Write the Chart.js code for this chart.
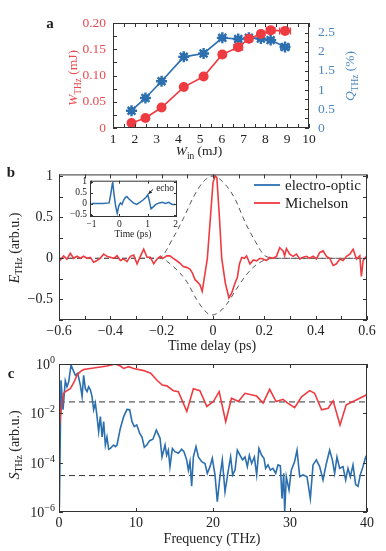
<!DOCTYPE html>
<html>
<head>
<meta charset="utf-8">
<script src="https://cdn.jsdelivr.net/npm/chart.js@4.4.0/dist/chart.umd.min.js"></script>
<style>
  body { margin: 0; background: #fff; width: 386px; height: 551px; position: relative; overflow: hidden; }
  canvas { position: absolute; left: 0; }
</style>
</head>
<body>
<canvas id="chartA" width="386" height="160" style="top:0"></canvas>
<canvas id="chartB" width="386" height="195" style="top:160px"></canvas>
<canvas id="inset" width="125" height="68" style="left:60px;top:172px"></canvas>
<canvas id="chartC" width="386" height="196" style="top:355px"></canvas>
<script>
// ---- panel a : THz energy / conversion efficiency vs input energy ----
const winMJ = [1.85, 2.49, 3.23, 4.25, 5.16, 6.02, 6.75, 7.24, 7.79, 8.24, 8.9];
const wThz  = [0.0095, 0.019, 0.039, 0.078, 0.098, 0.14, 0.154, 0.17, 0.179, 0.186, 0.185];
const qThz  = [0.455, 0.79, 1.23, 1.87, 1.96, 2.37, 2.34, 2.37, 2.35, 2.31, 2.13];
const wErr  = [0.05, 0.05, 0.05, 0.05, 0.08, 0.15, 0.2, 0.15, 0.15, 0.2, 0.25];
const qErr  = [0.05, 0.05, 0.05, 0.05, 0.08, 0.15, 0.15, 0.15, 0.15, 0.15, 0.2];
const qYErr = [0.05, 0.05, 0.05, 0.05, 0.05, 0.05, 0.05, 0.05, 0.05, 0.05, 0.05];
const winTicks = [1, 2, 3, 4, 5, 6, 7, 8, 9, 10];
const wTicks = [0, 0.05, 0.1, 0.15, 0.2];
const wTickLabels = ['0', '0.05', '0.10', '0.15', '0.20'];
const qTicks = [0, 0.5, 1, 1.5, 2, 2.5];
const qTickLabels = ['0', '0.5', '1', '1.5', '2', '2.5'];

// ---- panel b : Michelson field trace, envelope, inset EO trace ----
const delayPs = [
  -0.600,-0.595,-0.582,-0.569,-0.556,-0.543,-0.530,-0.517,-0.504,-0.491,
  -0.478,-0.465,-0.452,-0.439,-0.426,-0.413,-0.400,-0.387,-0.374,-0.361,
  -0.348,-0.335,-0.322,-0.309,-0.296,-0.283,-0.270,-0.257,-0.244,-0.231,
  -0.218,-0.205,-0.195,-0.180,-0.168,-0.155,-0.141,-0.128,-0.116,-0.103,
  -0.090,-0.080,-0.070,-0.060,-0.051,-0.042,-0.032,-0.022,-0.010,0.000,
  0.008,0.015,0.025,0.034,0.048,0.062,0.073,0.086,0.095,0.103,
  0.112,0.122,0.131,0.144,0.157,0.170,0.183,0.195,0.208,0.221,
  0.234,0.247,0.260,0.266,0.273,0.279,0.286,0.299,0.312,0.325,
  0.338,0.351,0.364,0.377,0.390,0.403,0.416,0.429,0.442,0.455,
  0.468,0.481,0.494,0.507,0.520,0.533,0.546,0.559,0.572,0.578,
  0.585,0.598
];
const michelson = [
  0.012,-0.020,0.030,-0.010,0.060,0.000,0.025,0.000,0.025,0.000,
  0.012,-0.047,-0.027,0.000,0.051,0.024,0.012,0.000,0.031,-0.027,
  -0.008,-0.039,0.024,0.039,-0.067,0.024,0.110,0.012,0.012,-0.067,
  -0.008,0.024,0.000,0.030,0.030,0.000,-0.030,-0.060,-0.100,-0.110,
  -0.130,-0.180,-0.260,-0.290,-0.320,-0.400,-0.200,0.000,0.500,0.920,
  1.000,0.980,0.500,0.000,-0.300,-0.480,-0.420,-0.300,-0.230,-0.070,
  0.010,0.000,0.030,-0.070,-0.020,-0.030,0.000,-0.008,-0.027,0.012,
  0.000,0.024,0.129,0.110,0.090,0.031,0.118,0.051,0.024,0.051,
  -0.008,0.012,0.024,0.000,0.024,-0.008,0.071,0.090,0.024,0.000,
  -0.086,-0.067,-0.008,-0.027,0.024,0.051,0.110,-0.008,0.031,-0.220,
  -0.027,0.024
];
const envUpT = [-0.6, -0.25, -0.207, -0.155, -0.116, -0.077, -0.038, 0, 0.047, 0.086, 0.125, 0.164, 0.203, 0.25, 0.6];
const envUp  = [0, 0, 0.01, 0.25, 0.48, 0.74, 0.93, 1.0, 0.9, 0.72, 0.44, 0.21, 0.03, 0, 0];
const envLoT = [-0.6, -0.25, -0.207, -0.155, -0.103, -0.064, -0.031, -0.005, 0.021, 0.053, 0.086, 0.125, 0.164, 0.203, 0.25, 0.6];
const envLo  = [0, 0, 0, -0.1, -0.28, -0.5, -0.64, -0.69, -0.66, -0.56, -0.4, -0.22, -0.09, -0.02, 0, 0];
const delayTicks = [-0.6, -0.4, -0.2, 0, 0.2, 0.4, 0.6];
const delayTickLabels = ['\u22120.6', '\u22120.4', '\u22120.2', '0', '0.2', '0.4', '0.6'];
const fieldTicks = [-0.5, 0, 0.5, 1];
const fieldTickLabels = ['\u22120.5', '0', '0.5', '1'];

const eoTime = [
  -1.0,-0.6,-0.368,-0.31,-0.253,-0.241,-0.195,-0.138,-0.08,-0.023,
  0.034,0.092,0.149,0.207,0.264,0.322,0.379,0.494,0.609,0.724,
  0.839,0.954,1.011,1.069,1.126,1.184,1.299,1.414,1.529,1.644,
  1.759,1.874,1.989
];
const eoField = [
  0.013,0.013,0.04,0.44,0.907,1.0,0.44,-0.093,-0.427,-0.093,
  0.04,-0.027,0.173,0.28,0.333,0.24,0.173,0.04,-0.027,0.067,
  0.173,0.307,0.413,0.107,-0.227,-0.16,-0.027,0.04,0.067,0.013,
  0.067,-0.027,-0.027
];
const insetTimeTicks = [-1, 0, 1, 2];
const insetTimeLabels = ['\u22121', '0', '1', '2'];
const insetFieldTicks = [-0.5, 0, 0.5, 1];
const insetFieldLabels = ['\u22120.5', '0', '0.5', '1'];

// ---- panel c : spectra ----
const freqMich = [
  0, 0.17, 0.39, 0.61, 0.82, 1.47, 1.9, 2.34, 2.77, 3.2,
  4.07, 4.94, 6.23, 7.3, 7.97, 8.4, 9.05, 9.7, 11.0, 11.9,
  12.73, 13.4, 14.0, 14.85, 15.5, 16.6, 17.45, 18.3, 19.2, 20.05,
  20.8, 21.65, 22.4, 23.3, 24.15, 25.67, 26.5, 27.36, 28.2, 29.1,
  29.7, 30.6, 31.5, 32.55, 33.2, 34.1, 34.95, 35.6, 36.5, 37.3,
  38.2, 39.9, 40
];
const specMich = [
  2.1e-3, 7.4e-3, 2.6e-2, 6.5e-2, 7.6e-2, 0.10, 0.17, 0.35, 0.49, 0.60,
  0.66, 0.72, 0.83, 1.0, 0.83, 0.66, 0.78, 0.66, 0.54, 0.42,
  0.22, 0.14, 0.13, 0.083, 0.076, 0.012, 0.10, 0.083, 0.019, 0.030,
  0.076, 0.0046, 0.041, 0.030, 0.065, 0.05, 0.026, 0.094, 0.030, 0.037,
  0.026, 0.017, 0.047, 0.083, 0.065, 0.014, 0.016, 0.032, 0.0034, 0.022,
  0.030, 0.055, 0.057
];
const freqEO = [
  0.05, 0.26, 0.52, 0.82, 1.04, 1.26, 1.56, 1.82, 2.12, 2.43,
  2.77, 3.0, 3.2, 3.42, 3.64, 3.85, 4.07, 4.29, 4.5, 4.72,
  4.94, 5.15, 5.37, 5.6, 5.8, 6.02, 6.23, 6.45, 6.67, 7.1,
  7.32, 7.53, 7.97, 8.4, 8.83, 9.18, 9.48, 9.78, 10.1, 10.5,
  10.78, 11.08, 11.4, 11.77, 12.2, 12.64, 12.94, 13.12, 13.38, 13.77,
  13.98, 14.2, 14.41, 14.72, 15.06, 15.5, 15.93, 16.23, 16.58, 16.8,
  17.01, 17.23, 17.45, 17.79, 18.1, 18.53, 18.96, 19.26, 19.61, 19.91,
  20.26, 20.56, 20.9, 21.21, 21.56, 21.99, 22.29, 22.55, 22.86, 23.16,
  23.51, 23.85, 24.16, 24.46, 24.72, 25.02, 25.37, 25.67, 25.97, 26.32,
  26.62, 26.84, 27.14, 27.45, 27.79, 28.14, 28.44, 28.75, 28.96, 29.18,
  29.31, 29.52, 29.87, 30.17, 30.6, 30.91, 31.26, 31.69, 32.21, 32.64,
  32.99, 33.42, 33.85, 34.29, 34.72, 35.15, 35.5, 35.8, 36.1, 36.45,
  36.88, 37.23, 37.53, 37.84, 38.18, 38.53, 38.83, 39.13, 39.48, 39.83,
  40
];
const specEO = [
  1.5e-6, 0.22, 0.014, 0.21, 0.12, 0.19, 0.91, 0.58, 0.35, 0.42,
  0.14, 0.048, 0.35, 0.10, 0.076, 0.12, 0.089, 0.048, 0.014, 0.026,
  7.4e-3, 1.8e-3, 7.4e-3, 1.1e-3, 4.6e-3, 5.2e-4, 1.1e-3, 3.5e-4, 3.8e-4, 5.2e-4,
  4.5e-4, 5.2e-4, 2.5e-3, 7.4e-3, 1.45e-2, 1.4e-2, 4.6e-3, 2.9e-3, 3.4e-3, 1.5e-3,
  1.1e-3, 4.2e-4, 5.2e-4, 7.8e-4, 8.9e-4, 2.1e-3, 1.3e-3, 9.8e-4, 1.7e-4, 5.2e-4,
  2.0e-4, 3.2e-4, 6.9e-5, 3.8e-4, 2.8e-4, 2.4e-4, 3.5e-4, 2.8e-4, 1.3e-4, 5e-5,
  1.1e-4, 1.1e-5, 1.7e-4, 4.5e-4, 1.7e-4, 1.1e-4, 9.3e-5, 3.7e-5, 6.9e-5, 1.5e-4,
  3.2e-5, 2.6e-6, 2.7e-5, 1.3e-4, 6.6e-6, 5e-5, 1.7e-4, 3.2e-5, 5e-5, 3.2e-4,
  2.0e-4, 1.3e-4, 1.7e-4, 6.9e-5, 2.0e-4, 9.3e-5, 1.7e-4, 3.2e-5, 3.8e-4, 2.0e-4,
  1.5e-4, 5.9e-5, 8.1e-5, 5e-5, 5.9e-5, 3.7e-5, 8.1e-5, 7.4e-5, 3.5e-6, 3.7e-5,
  1e-6, 2.7e-5, 7.8e-6, 5e-5, 1.1e-4, 3.2e-4, 2.7e-5, 3.2e-5, 2.7e-5, 3.5e-6,
  8.1e-5, 1.3e-4, 6.9e-5, 2e-5, 9.3e-5, 3.2e-4, 1.3e-4, 3.7e-5, 1.7e-4, 5.9e-5,
  6.9e-5, 2e-5, 5.9e-5, 2.7e-5, 8.1e-5, 1.3e-5, 1.1e-5, 3.2e-5, 6.9e-5, 1.7e-4,
  2e-4
];
const noiseFreq = [0, 40];
const noiseMich = [2.9e-2, 2.9e-2];
const noiseEO = [3e-5, 3e-5];
const freqTicks = [0, 10, 20, 30, 40];
const specTicks = [1, 1e-2, 1e-4, 1e-6];
const specExp = ['0', '\u22122', '\u22124', '\u22126'];

// ---- styles ----
const FONT = "'Liberation Serif', 'Times New Roman', serif";
const RED = '#ee3b41';
const BLUE = '#2c6fae';
const RED_TXT = '#ea4a50';
const BLUE_TXT = '#4a86bf';
const INK = '#222';
Chart.defaults.font.family = FONT;
Chart.defaults.color = INK;

const pts = (xs, ys) => xs.map((x, i) => ({ x: x, y: ys[i] }));

// text with italic / subscript parts, centred on (x, y)
function drawRich(ctx, parts, x, y, rot, color, size) {
  ctx.save();
  ctx.translate(x, y);
  ctx.rotate(rot * Math.PI / 180);
  ctx.fillStyle = color;
  ctx.textBaseline = 'alphabetic';
  const fontOf = (p) => (p.i ? 'italic ' : '') + (p.b ? 'bold ' : '') +
    (p.sub || p.sup ? size * 0.7 : size) + 'px ' + FONT;
  let total = 0;
  parts.forEach(p => { ctx.font = fontOf(p); total += ctx.measureText(p.t).width; });
  let cx = -total / 2;
  parts.forEach(p => {
    ctx.font = fontOf(p);
    const dy = p.sub ? size * 0.25 : (p.sup ? -size * 0.42 : 0);
    ctx.fillText(p.t, cx, size * 0.33 + dy);
    cx += ctx.measureText(p.t).width;
  });
  ctx.restore();
}

// frame, inward ticks, titles and extra labels
function makeDecor(cfg) {
  return {
    id: 'decor',
    beforeDraw(chart) {
      if (cfg.whiteArea) {
        const a = chart.chartArea, ctx = chart.ctx;
        ctx.save(); ctx.fillStyle = '#fff';
        ctx.fillRect(a.left, a.top, a.width, a.height); ctx.restore();
      }
    },
    afterDraw(chart) {
      const ctx = chart.ctx, a = chart.chartArea;
      ctx.save();
      ctx.strokeStyle = '#333';
      ctx.lineWidth = 1;
      ctx.strokeRect(a.left + 0.5, a.top + 0.5, a.width - 1, a.height - 1);
      (cfg.ticks || []).forEach(t => {
        const s = chart.scales[t.scale];
        ctx.beginPath();
        t.values.forEach(v => {
          const p = Math.round(s.getPixelForValue(v)) + 0.5;
          if (s.isHorizontal()) {
            if (t.sides.includes('bottom')) { ctx.moveTo(p, a.bottom); ctx.lineTo(p, a.bottom - t.len); }
            if (t.sides.includes('top')) { ctx.moveTo(p, a.top); ctx.lineTo(p, a.top + t.len); }
          } else {
            if (t.sides.includes('left')) { ctx.moveTo(a.left, p); ctx.lineTo(a.left + t.len, p); }
            if (t.sides.includes('right')) { ctx.moveTo(a.right, p); ctx.lineTo(a.right - t.len, p); }
          }
        });
        ctx.stroke();
      });
      (cfg.lines || []).forEach(l => {
        ctx.strokeStyle = l.color; ctx.lineWidth = l.width;
        ctx.beginPath(); ctx.moveTo(l.x1, l.y1); ctx.lineTo(l.x2, l.y2); ctx.stroke();
      });
      ctx.restore();
      (cfg.texts || []).forEach(t => drawRich(ctx, t.parts, t.x, t.y, t.rot || 0, t.color || INK, t.size));
      if (cfg.extra) cfg.extra(chart);
    }
  };
}

// horizontal (and vertical) error bars for panel a
const errorBars = {
  id: 'errorBars',
  beforeDatasetsDraw(chart) {
    const ctx = chart.ctx, xs = chart.scales.x;
    chart.data.datasets.forEach(ds => {
      if (!ds.xErr) return;
      const ys = chart.scales[ds.yAxisID];
      ctx.save();
      ctx.strokeStyle = ds.borderColor; ctx.lineWidth = 1.2;
      ds.data.forEach((p, i) => {
        const y = ys.getPixelForValue(p.y);
        const x1 = xs.getPixelForValue(p.x - ds.xErr[i]);
        const x2 = xs.getPixelForValue(p.x + ds.xErr[i]);
        ctx.beginPath();
        ctx.moveTo(x1, y); ctx.lineTo(x2, y);
        ctx.moveTo(x1, y - 3.5); ctx.lineTo(x1, y + 3.5);
        ctx.moveTo(x2, y - 3.5); ctx.lineTo(x2, y + 3.5);
        if (ds.yErr) {
          const x = xs.getPixelForValue(p.x);
          const y1 = ys.getPixelForValue(p.y - ds.yErr[i]);
          const y2 = ys.getPixelForValue(p.y + ds.yErr[i]);
          ctx.moveTo(x, y1); ctx.lineTo(x, y2);
          ctx.moveTo(x - 3.5, y1); ctx.lineTo(x + 3.5, y1);
          ctx.moveTo(x - 3.5, y2); ctx.lineTo(x + 3.5, y2);
        }
        ctx.stroke();
      });
      ctx.restore();
    });
  }
};

const setTicks = (vals) => (s) => { s.ticks = vals.map(v => ({ value: v })); };
const noGrid = { display: false, drawTicks: false };
const noBorder = { display: false };
const steps = (from, to, step) => {
  const out = [];
  for (let v = from; v <= to + 1e-9; v += step) out.push(+v.toFixed(4));
  return out;
};

// ================= panel a =================
new Chart(document.getElementById('chartA'), {
  type: 'line',
  data: {
    datasets: [
      {
        data: pts(winMJ, wThz), yAxisID: 'yW', xErr: wErr,
        borderColor: RED, backgroundColor: RED, borderWidth: 1.6,
        pointStyle: 'circle', pointRadius: 5, pointBorderWidth: 0
      },
      {
        data: pts(winMJ, qThz), yAxisID: 'yQ', xErr: qErr, yErr: qYErr,
        borderColor: BLUE, backgroundColor: BLUE, borderWidth: 1.6,
        pointStyle: 'star', pointRadius: 5.5, pointBorderWidth: 2.4
      }
    ]
  },
  options: {
    responsive: false, animation: false,
    layout: { padding: { top: 23 } },
    plugins: { legend: { display: false }, tooltip: { enabled: false } },
    scales: {
      x: {
        type: 'linear', min: 1, max: 10,
        afterBuildTicks: setTicks(winTicks),
        afterFit: (s) => { s.height = 32; },
        ticks: { padding: 3, font: { size: 13.5 }, maxRotation: 0, autoSkip: false },
        grid: noGrid, border: noBorder
      },
      yW: {
        type: 'linear', position: 'left', min: 0, max: 0.2,
        afterBuildTicks: setTicks(wTicks),
        afterFit: (s) => { s.width = 113; },
        ticks: { padding: 7, color: RED_TXT, font: { size: 13.5 }, autoSkip: false,
          callback: (v, i) => wTickLabels[i] },
        grid: noGrid, border: noBorder
      },
      yQ: {
        type: 'linear', position: 'right', min: 0, max: 2.76,
        afterBuildTicks: setTicks(qTicks),
        afterFit: (s) => { s.width = 77; },
        ticks: { padding: 9, color: BLUE_TXT, font: { size: 13.5 }, autoSkip: false,
          callback: (v, i) => qTickLabels[i] },
        grid: noGrid, border: noBorder
      }
    }
  },
  plugins: [errorBars, makeDecor({
    ticks: [
      { scale: 'x', values: steps(1, 10, 0.5), len: 4, sides: ['bottom', 'top'] },
      { scale: 'yW', values: steps(0, 0.2, 0.025), len: 4, sides: ['left'] },
      { scale: 'yQ', values: steps(0, 2.75, 0.25), len: 4, sides: ['right'] }
    ],
    texts: [
      { parts: [{ t: 'a', b: true }], x: 50, y: 23, size: 15 },
      { parts: [{ t: 'W', i: true }, { t: 'in', sub: true }, { t: ' (mJ)' }], x: 199, y: 151, size: 13.5 },
      { parts: [{ t: 'W', i: true }, { t: 'THz', sub: true }, { t: ' (mJ)' }], x: 73, y: 78, rot: -90, color: RED_TXT, size: 13.5 },
      { parts: [{ t: 'Q', i: true }, { t: 'THz', sub: true }, { t: ' (%)' }], x: 350, y: 76, rot: -90, color: BLUE_TXT, size: 13.5 }
    ]
  })]
});

// ================= panel b =================
new Chart(document.getElementById('chartB'), {
  type: 'line',
  data: {
    datasets: [
      { data: pts(delayPs, michelson), borderColor: RED, borderWidth: 1.6, pointRadius: 0 },
      { data: pts(envUpT, envUp), borderColor: '#555', borderWidth: 1, borderDash: [5, 4], pointRadius: 0, cubicInterpolationMode: 'monotone' },
      { data: pts(envLoT, envLo), borderColor: '#555', borderWidth: 1, borderDash: [5, 4], pointRadius: 0, cubicInterpolationMode: 'monotone' }
    ]
  },
  options: {
    responsive: false, animation: false,
    layout: { padding: { top: 10, right: 19 } },
    plugins: { legend: { display: false }, tooltip: { enabled: false } },
    scales: {
      x: {
        type: 'linear', min: -0.6, max: 0.6,
        afterBuildTicks: setTicks(delayTicks),
        afterFit: (s) => { s.height = 35; },
        ticks: { padding: 3, font: { size: 14 }, maxRotation: 0, autoSkip: false,
          callback: (v, i) => delayTickLabels[i] },
        grid: noGrid, border: noBorder
      },
      y: {
        type: 'linear', min: -0.75, max: 1.02,
        afterBuildTicks: setTicks(fieldTicks),
        afterFit: (s) => { s.width = 59; },
        ticks: { padding: 6, font: { size: 14 }, autoSkip: false,
          callback: (v, i) => fieldTickLabels[i] },
        grid: noGrid, border: noBorder
      }
    }
  },
  plugins: [makeDecor({
    ticks: [
      { scale: 'x', values: steps(-0.6, 0.6, 0.1), len: 4, sides: ['bottom', 'top'] },
      { scale: 'y', values: steps(-0.75, 1, 0.25), len: 4, sides: ['left', 'right'] }
    ],
    lines: [
      { x1: 254, y1: 25, x2: 280, y2: 25, color: BLUE, width: 1.8 },
      { x1: 254, y1: 43, x2: 280, y2: 43, color: RED, width: 1.8 }
    ],
    texts: [
      { parts: [{ t: 'b', b: true }], x: 11, y: 12, size: 15 },
      { parts: [{ t: 'Time delay (ps)' }], x: 212, y: 185, size: 14 },
      { parts: [{ t: 'E', i: true }, { t: 'THz', sub: true }, { t: ' (arb.u.)' }], x: 14, y: 88, rot: -90, size: 14 }
    ],
    extra: (chart) => {
      const ctx = chart.ctx;
      ctx.save();
      ctx.font = '15px ' + FONT; ctx.fillStyle = INK; ctx.textBaseline = 'middle';
      ctx.fillText('electro-optic', 285, 26);
      ctx.fillText('Michelson', 285, 44);
      ctx.restore();
    }
  })]
});

// ---- inset : electro-optic trace ----
new Chart(document.getElementById('inset'), {
  type: 'line',
  data: {
    datasets: [
      { data: pts(eoTime, eoField), borderColor: BLUE, borderWidth: 1.5, pointRadius: 0 }
    ]
  },
  options: {
    responsive: false, animation: false,
    layout: { padding: { top: 7, right: 8 } },
    plugins: { legend: { display: false }, tooltip: { enabled: false } },
    scales: {
      x: {
        type: 'linear', min: -1.05, max: 2.05,
        afterBuildTicks: setTicks(insetTimeTicks),
        afterFit: (s) => { s.height = 23; },
        ticks: { padding: 2, font: { size: 9.5 }, maxRotation: 0, autoSkip: false,
          callback: (v, i) => insetTimeLabels[i] },
        grid: noGrid, border: noBorder
      },
      y: {
        type: 'linear', min: -0.6, max: 1.05,
        afterBuildTicks: setTicks(insetFieldTicks),
        afterFit: (s) => { s.width = 30; },
        ticks: { padding: 3, font: { size: 9.5 }, autoSkip: false,
          callback: (v, i) => insetFieldLabels[i] },
        grid: noGrid, border: noBorder
      }
    }
  },
  plugins: [makeDecor({
    whiteArea: true,
    ticks: [
      { scale: 'x', values: insetTimeTicks, len: 3, sides: ['bottom', 'top'] },
      { scale: 'y', values: insetFieldTicks, len: 3, sides: ['left', 'right'] }
    ],
    texts: [
      { parts: [{ t: 'Time (ps)' }], x: 73, y: 62, size: 9.5 }
    ],
    extra: (chart) => {
      const ctx = chart.ctx, xs = chart.scales.x, ys = chart.scales.y;
      const tip = { x: xs.getPixelForValue(1.03), y: ys.getPixelForValue(0.45) };
      const tail = { x: xs.getPixelForValue(1.2), y: ys.getPixelForValue(0.66) };
      ctx.save();
      ctx.strokeStyle = INK; ctx.fillStyle = INK; ctx.lineWidth = 1;
      ctx.beginPath(); ctx.moveTo(tail.x, tail.y); ctx.lineTo(tip.x, tip.y); ctx.stroke();
      const ang = Math.atan2(tip.y - tail.y, tip.x - tail.x);
      ctx.beginPath();
      ctx.moveTo(tip.x, tip.y);
      ctx.lineTo(tip.x - 4 * Math.cos(ang - 0.45), tip.y - 4 * Math.sin(ang - 0.45));
      ctx.lineTo(tip.x - 4 * Math.cos(ang + 0.45), tip.y - 4 * Math.sin(ang + 0.45));
      ctx.closePath(); ctx.fill();
      ctx.font = '9.5px ' + FONT; ctx.textBaseline = 'middle';
      ctx.fillText('echo', tail.x + 3, tail.y - 1);
      ctx.restore();
    }
  })]
});

// ================= panel c =================
new Chart(document.getElementById('chartC'), {
  type: 'line',
  data: {
    datasets: [
      { data: pts(freqMich, specMich), borderColor: RED, borderWidth: 1.6, pointRadius: 0 },
      { data: pts(freqEO, specEO), borderColor: BLUE, borderWidth: 1.6, pointRadius: 0 },
      { data: pts(noiseFreq, noiseMich), borderColor: '#333', borderWidth: 1, borderDash: [6, 4], pointRadius: 0 },
      { data: pts(noiseFreq, noiseEO), borderColor: '#333', borderWidth: 1, borderDash: [6, 4], pointRadius: 0 }
    ]
  },
  options: {
    responsive: false, animation: false,
    layout: { padding: { top: 9, right: 19 } },
    plugins: { legend: { display: false }, tooltip: { enabled: false } },
    scales: {
      x: {
        type: 'linear', min: 0, max: 40,
        afterBuildTicks: setTicks(freqTicks),
        afterFit: (s) => { s.height = 39; },
        ticks: { padding: 3, font: { size: 14 }, maxRotation: 0, autoSkip: false },
        grid: noGrid, border: noBorder
      },
      y: {
        type: 'logarithmic', min: 1e-6, max: 1,
        afterBuildTicks: setTicks(specTicks),
        afterFit: (s) => { s.width = 59; },
        ticks: { display: false },
        grid: noGrid, border: noBorder
      }
    }
  },
  plugins: [makeDecor({
    ticks: [
      { scale: 'x', values: freqTicks, len: 4, sides: ['bottom', 'top'] },
      { scale: 'y', values: specTicks, len: 4, sides: ['left', 'right'] }
    ],
    texts: [
      { parts: [{ t: 'c', b: true }], x: 11, y: 18, size: 15 },
      { parts: [{ t: 'Frequency (THz)' }], x: 212, y: 183, size: 14 },
      { parts: [{ t: 'S', i: true }, { t: 'THz', sub: true }, { t: ' (arb.u.)' }], x: 14, y: 90, rot: -90, size: 14 }
    ],
    extra: (chart) => {
      // decade labels 10^n
      const ctx = chart.ctx, ys = chart.scales.y;
      const right = chart.chartArea.left - 4;
      ctx.save(); ctx.fillStyle = INK; ctx.textBaseline = 'alphabetic';
      specTicks.forEach((v, i) => {
        const y = ys.getPixelForValue(v);
        ctx.font = '10px ' + FONT;
        const we = ctx.measureText(specExp[i]).width;
        ctx.fillText(specExp[i], right - we, y - 1);
        ctx.font = '14px ' + FONT;
        const wb = ctx.measureText('10').width;
        ctx.fillText('10', right - we - wb, y + 5);
      });
      ctx.restore();
    }
  })]
});
</script>
</body>
</html>
